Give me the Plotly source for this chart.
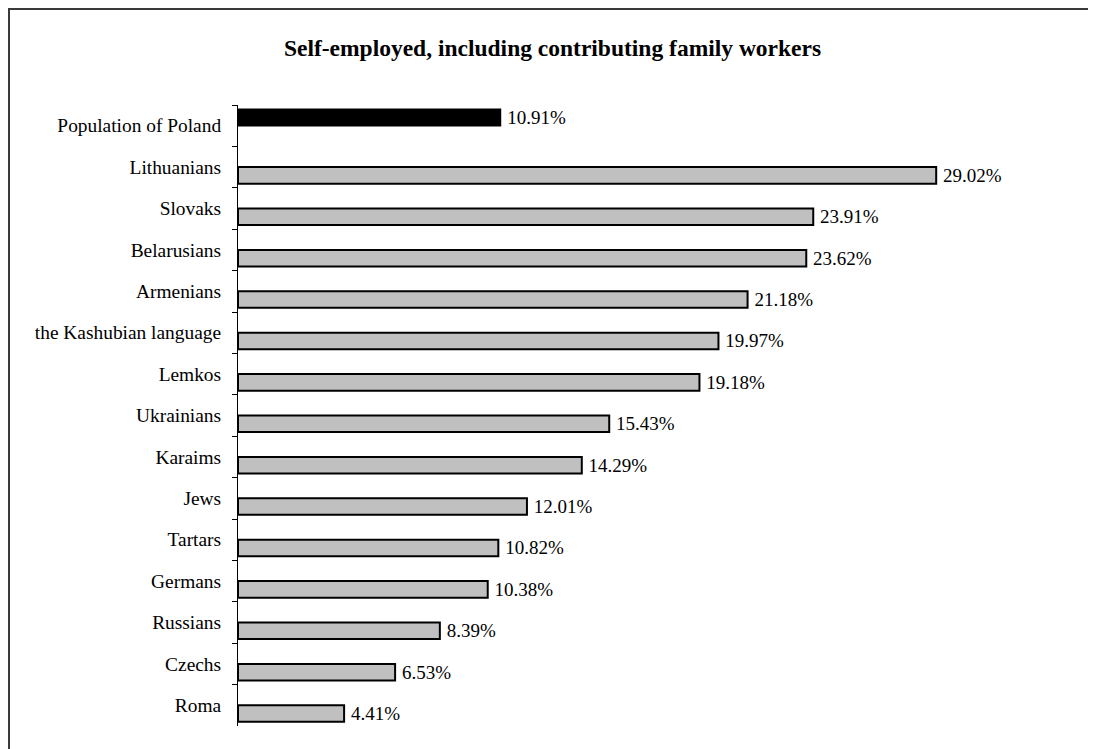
import plotly.graph_objects as go

categories = ["Population of Poland", "Lithuanians", "Slovaks", "Belarusians", "Armenians",
              "the Kashubian language", "Lemkos", "Ukrainians", "Karaims", "Jews",
              "Tartars", "Germans", "Russians", "Czechs", "Roma"]
values = [10.91, 29.02, 23.91, 23.62, 21.18, 19.97, 19.18, 15.43, 14.29, 12.01,
          10.82, 10.38, 8.39, 6.53, 4.41]
title_text = "Self-employed, including contributing family workers"

# page body has an 8px margin; figure sized to fit the window
W, H = 1088, 741
ml, mr, mt, mb = 230, 40, 97, 23
pw, ph = W - ml - mr, H - mt - mb
FONT = "Liberation Serif, Times New Roman, serif"
SLOT = 0.4

fig = go.Figure()
fig.add_trace(go.Bar(
    y=categories[:1], x=values[:1], orientation="h",
    width=SLOT, offset=-SLOT,
    marker=dict(color="black", line=dict(color="black", width=1.5)),
    text=["\u2009" + f"{v:.2f}%" for v in values[:1]], textposition="outside",
    textfont=dict(family=FONT, size=19, color="black"),
    constraintext="none", cliponaxis=False, showlegend=False,
))
fig.add_trace(go.Bar(
    y=categories[1:], x=values[1:], orientation="h",
    width=SLOT, offset=0,
    marker=dict(color="#C0C0C0", line=dict(color="black", width=2)),
    text=["\u2009" + f"{v:.2f}%" for v in values[1:]], textposition="outside",
    textfont=dict(family=FONT, size=19, color="black"),
    constraintext="none", cliponaxis=False, showlegend=False,
))


def px_x(p):
    return (p - ml) / pw


def px_y(p):
    return (H - mb - p) / ph


shapes = [
    dict(type="line", xref="paper", yref="paper", x0=px_x(0), x1=px_x(W + 5),
         y0=px_y(1), y1=px_y(1), line=dict(color="#3a3a3a", width=2)),
    dict(type="line", xref="paper", yref="paper", x0=px_x(1), x1=px_x(1),
         y0=px_y(0), y1=px_y(H + 5), line=dict(color="#3a3a3a", width=2)),
]

fig.update_layout(
    width=W, height=H,
    margin=dict(l=ml, r=mr, t=mt, b=mb),
    paper_bgcolor="white", plot_bgcolor="white",
    barmode="overlay",
    title=dict(text="<b>" + title_text + "</b>", xref="container", yref="container",
               x=544.5 / W, xanchor="center", y=1 - 40 / H, yanchor="middle",
               font=dict(family=FONT, size=23.5, color="black")),
    xaxis=dict(visible=False, range=[0, 34], showgrid=False, zeroline=False),
    yaxis=dict(type="category", autorange="reversed", tickson="boundaries",
               ticks="outside", ticklen=5, tickcolor="black", tickwidth=1,
               showline=True, linecolor="black", linewidth=1, showgrid=False,
               ticklabelstandoff=12,
               tickfont=dict(family=FONT, size=19.4, color="black")),
    shapes=shapes,
)

fig.write_html("out.html")
